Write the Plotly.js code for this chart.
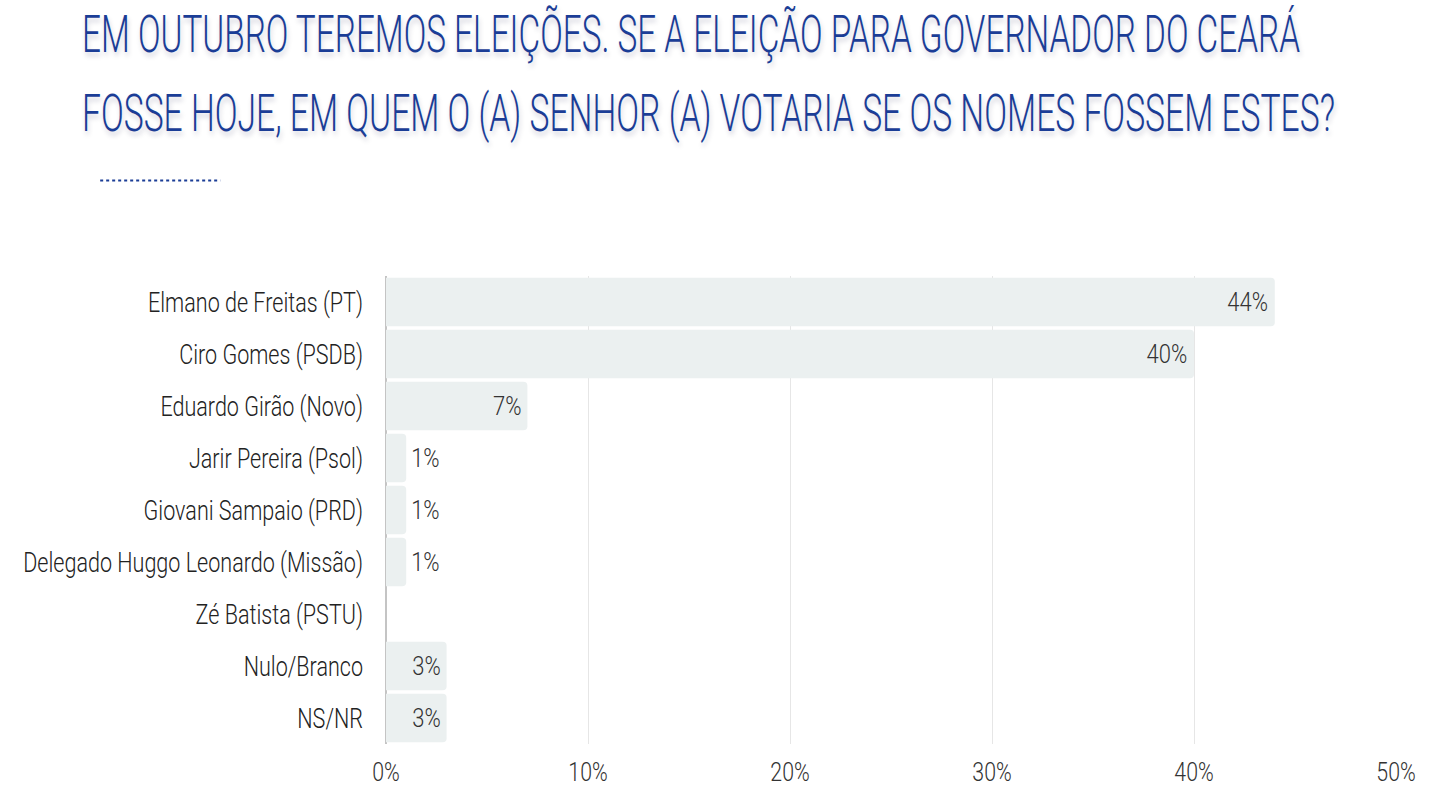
<!DOCTYPE html>
<html>
<head>
<meta charset="utf-8">
<script src="https://cdn.plot.ly/plotly-3.0.1.min.js"></script>
<style>
html,body{margin:0;padding:0;background:#fff;}
#chart{width:1447px;height:800px;}
</style>
</head>
<body>
<div id="chart"></div>
<script>
const categories = [
  "Elmano de Freitas (PT)",
  "Ciro Gomes (PSDB)",
  "Eduardo Girão (Novo)",
  "Jarir Pereira (Psol)",
  "Giovani Sampaio (PRD)",
  "Delegado Huggo Leonardo (Missão)",
  "Zé Batista (PSTU)",
  "Nulo/Branco",
  "NS/NR"
];
const values = [44, 40, 7, 1, 1, 1, 0, 3, 3];
const labelPositions = ["inside","inside","inside","outside","outside","outside","none","inside","inside"];
const tickValues = [0, 10, 20, 30, 40, 50];
const tickLabels = ["0%", "10%", "20%", "30%", "40%", "50%"];
const titleLines = [
  "EM OUTUBRO TEREMOS ELEIÇÕES. SE A ELEIÇÃO PARA GOVERNADOR DO CEARÁ",
  "FOSSE HOJE, EM QUEM O (A) SENHOR (A) VOTARIA SE OS NOMES FOSSEM ESTES?"
];

const FONT = 'Roboto, "Noto Sans", sans-serif';

const trace = {
  type: 'bar',
  orientation: 'h',
  y: categories,
  x: values,
  text: values.map(v => v > 0 ? v + '%' : ''),
  textposition: labelPositions,
  insidetextanchor: 'end',
  constraintext: 'none',
  textangle: 0,
  textfont: {family: FONT, size: 25, weight: 300, color: '#333333'},
  outsidetextfont: {family: FONT, size: 25, weight: 300, color: '#333333'},
  marker: {color: '#ebf0f0', line: {width: 0}},
  hoverinfo: 'none',
  cliponaxis: false
};

const layout = {
  width: 1447,
  height: 800,
  margin: {l: 386, r: 51, t: 276, b: 56},
  paper_bgcolor: '#ffffff',
  plot_bgcolor: '#ffffff',
  showlegend: false,
  bargap: 0.07,
  barcornerradius: 4,
  font: {family: FONT, color: '#333333'},
  xaxis: {
    range: [0, 50],
    tickvals: tickValues,
    ticktext: tickLabels,
    showgrid: true,
    gridcolor: '#e6e6e6',
    gridwidth: 1,
    zeroline: true,
    zerolinecolor: '#c4c4c4',
    zerolinewidth: 1.5,
    showline: false,
    ticks: '',
    ticklabelstandoff: 10,
    tickfont: {family: FONT, size: 26, weight: 300, color: '#333333'},
    fixedrange: true
  },
  yaxis: {
    autorange: 'reversed',
    type: 'category',
    showgrid: false,
    zeroline: false,
    showline: false,
    ticks: '',
    ticklabelstandoff: 22,
    tickfont: {family: FONT, size: 28, weight: 300, color: '#222222'},
    fixedrange: true
  },
  annotations: [
    {
      text: titleLines[0], xref: 'paper', yref: 'paper', align: 'left',
      x: -0.303, y: 1.515, xanchor: 'left', yanchor: 'middle', showarrow: false,
      font: {family: FONT, size: 52, weight: 300, color: '#1b3d96', shadow: '2px 4px 6px rgba(0,0,60,0.18)'}
    },
    {
      text: titleLines[1], xref: 'paper', yref: 'paper', align: 'left',
      x: -0.303, y: 1.348, xanchor: 'left', yanchor: 'middle', showarrow: false,
      font: {family: FONT, size: 52, weight: 300, color: '#1b3d96', shadow: '2px 4px 6px rgba(0,0,60,0.18)'}
    }
  ],
  shapes: [
    {
      type: 'line', xref: 'paper', yref: 'paper',
      x0: -0.283, x1: -0.164, y0: 1.204, y1: 1.204,
      line: {color: '#1b3d96', width: 2, dash: 'dot'}
    }
  ]
};

function condense(nodes, k) {
  nodes.forEach(t => {
    const w = t.getComputedTextLength();
    if (w > 0) {
      t.setAttribute('textLength', (w * k).toFixed(1));
      t.setAttribute('lengthAdjust', 'spacingAndGlyphs');
    }
  });
}
function fitTo(node, width) {
  node.setAttribute('textLength', width);
  node.setAttribute('lengthAdjust', 'spacingAndGlyphs');
}

Plotly.newPlot('chart', [trace], layout, {displayModeBar: false, staticPlot: true}).then(gd => {
  condense(gd.querySelectorAll('.ytick text'), 0.77);
  condense(gd.querySelectorAll('.xtick text'), 0.82);
  condense(gd.querySelectorAll('text.bartext'), 0.88);
  const ann = gd.querySelectorAll('text.annotation-text');
  if (ann[0]) fitTo(ann[0], 1218);
  if (ann[1]) fitTo(ann[1], 1253);
});
</script>
</body>
</html>
